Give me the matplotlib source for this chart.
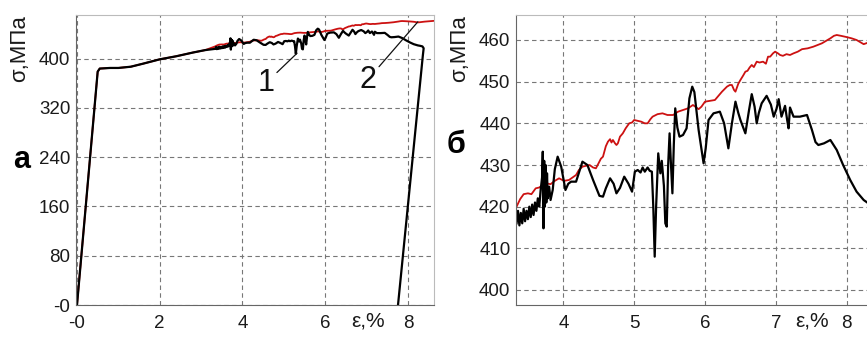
import matplotlib
matplotlib.use('Agg')
import matplotlib.pyplot as plt

plt.rcParams['font.family'] = ['Liberation Sans', 'DejaVu Sans']

# начальный участок (общий для обеих кривых)
early_strain = [0.0, 0.50, 0.55, 0.8, 1.0, 1.3, 1.6, 2.0, 2.4, 2.8, 3.1]
early_stress = [0, 379, 384, 385, 385, 387, 392, 399, 404, 410, 414]

# кривая 1 (черная), подробный участок
black_strain = [3.34, 3.36, 3.38, 3.40, 3.42, 3.44, 3.46, 3.48, 3.50, 3.52, 3.54, 3.56,
                3.58, 3.60, 3.62, 3.64, 3.66, 3.68, 3.70, 3.71, 3.715, 3.72, 3.73, 3.74,
                3.75, 3.76, 3.77, 3.78, 3.80, 3.82, 3.85, 3.88, 3.92, 3.97, 4.03, 4.07,
                4.11, 4.18, 4.27, 4.34, 4.42, 4.51, 4.56, 4.60, 4.66, 4.71, 4.75, 4.80,
                4.86, 4.92, 4.97, 5.01, 5.05, 5.09, 5.12, 5.15, 5.19, 5.22, 5.25, 5.27,
                5.29, 5.31, 5.34, 5.37, 5.39, 5.42, 5.44, 5.46, 5.48, 5.50, 5.52, 5.54,
                5.56, 5.58, 5.61, 5.64, 5.69, 5.74, 5.78, 5.82, 5.85, 5.91, 5.98, 6.01,
                6.05, 6.12, 6.21, 6.27, 6.33, 6.38, 6.43, 6.47, 6.50, 6.57, 6.62, 6.66,
                6.70, 6.73, 6.76, 6.80, 6.87, 6.93, 6.97, 7.01, 7.04, 7.08, 7.13, 7.16,
                7.18, 7.20, 7.25, 7.34, 7.44, 7.51, 7.56, 7.60, 7.68, 7.77, 7.86, 7.95,
                8.05, 8.14, 8.24, 8.29]
black_stress = [416, 419, 415.5, 418.5, 416, 419.5, 416.5, 419, 417, 420, 417.5, 420.5,
                418, 421, 419, 422, 420, 424, 427, 433.2, 419, 414.8, 431, 420,
                430, 421, 428, 422, 424.8, 421.6, 424, 429, 432, 429.6, 424, 425.5,
                426, 426, 430.8, 430, 426.4, 422.6, 422.4, 424.4, 426.8, 425.5, 423.2, 424.5,
                427.2, 425.5, 423.6, 428.4, 428.8, 428.2, 429.4, 428.4, 429.4, 428.6, 428.4, 420,
                408, 420, 432.8, 428, 431, 425, 416, 415.2, 430, 437.6, 430, 423.2,
                435, 443.6, 439, 436.8, 437.2, 438.8, 446, 448.8, 447.5, 438.4, 430.4, 434,
                440.8, 442.4, 442.8, 440, 434, 440, 445.2, 442.5, 440.8, 437.6, 443, 447,
                444, 440, 442.5, 444.8, 446.6, 444.5, 441.6, 443.5, 445.8, 441.6, 444.2, 440.8,
                438.8, 443.8, 441.6, 441.6, 442, 438.4, 435.5, 434.8, 435.2, 436, 433.6, 430,
                426.4, 423.6, 421.6, 421]
black_tail_strain = [8.35, 8.38, 8.36, 7.76]
black_tail_stress = [420, 417, 405, 0]

# кривая 2 (красная), подробный участок
red_strain = [3.34, 3.39, 3.44, 3.50, 3.55, 3.61, 3.66, 3.71, 3.76, 3.82, 3.88, 3.94,
              4.01, 4.08, 4.13, 4.18, 4.22, 4.27, 4.32, 4.37, 4.42, 4.46, 4.50, 4.53,
              4.56, 4.60, 4.63, 4.66, 4.68, 4.70, 4.73, 4.75, 4.77, 4.80, 4.84, 4.88,
              4.93, 4.97, 5.00, 5.05, 5.10, 5.15, 5.19, 5.23, 5.26, 5.33, 5.40, 5.47,
              5.55, 5.62, 5.69, 5.76, 5.83, 5.91, 5.95, 6.00, 6.07, 6.14, 6.19, 6.24,
              6.31, 6.35, 6.38, 6.41, 6.43, 6.47, 6.50, 6.54, 6.57, 6.60, 6.63, 6.66,
              6.69, 6.73, 6.77, 6.82, 6.86, 6.89, 6.92, 6.96, 6.99, 7.03, 7.06, 7.10,
              7.15, 7.20, 7.25, 7.31, 7.37, 7.45, 7.53, 7.59, 7.65, 7.71, 7.77, 7.82,
              7.86, 7.92, 8.00, 8.07, 8.14, 8.20, 8.24, 8.29]
red_stress = [420, 421.8, 423, 423.2, 423, 424.4, 424.6, 425.2, 425.6, 425.4, 426.2, 426.8,
              426.2, 426.4, 427, 427.6, 428.8, 429.6, 429.8, 430, 429.4, 429.2, 430.5, 431.5,
              432, 434.5, 435.6, 436.2, 435.4, 436, 435.2, 434.8, 435.2, 436.8, 437.6, 438.8,
              440, 440.2, 440.8, 440.6, 440.4, 440, 440, 441, 441.6, 442.2, 442.4, 442,
              442, 442.8, 443.2, 443.6, 444.4, 443.4, 444, 445.2, 445.4, 445.6, 446.6, 447.6,
              448.8, 449.2, 449.2, 448, 447.6, 449.5, 450.4, 451.5, 452.4, 452.6, 453.4, 454,
              453.5, 454.8, 454.6, 454.8, 454.3, 456, 456, 456.8, 457.2, 456.8, 456.4, 456.2,
              456.6, 456.4, 456.8, 457.2, 457.8, 458, 458.4, 458.8, 459.2, 459.8, 460.4, 461,
              461.2, 461, 460.7, 460.4, 460, 459.4, 459, 459.3]
red_tail_strain = [8.40, 8.63]
red_tail_stress = [460.2, 461.5]

left_x_ticks = [0, 2, 4, 6, 8]
left_x_labels = ['-0', '2', '4', '6', '8']
left_y_ticks = [0, 80, 160, 240, 320, 400]
left_y_labels = ['-0', '80', '160', '240', '320', '400']
right_x_ticks = [4, 5, 6, 7, 8]
right_y_ticks = [400, 410, 420, 430, 440, 450, 460]

W, H = 867, 352
fig = plt.figure(figsize=(W / 100, H / 100), dpi=100)

ax1 = fig.add_axes([76 / W, 1 - 305 / H, 358 / W, 290 / H])
ax2 = fig.add_axes([516 / W, 1 - 305 / H, 351 / W, 290 / H])

red_c = '#cc1111'

# левая панель
bx = early_strain + black_strain + black_tail_strain
by = early_stress + black_stress + black_tail_stress
rx = early_strain + red_strain + red_tail_strain
ry = early_stress + red_stress + red_tail_stress
ax1.plot(rx, ry, color=red_c, lw=1.3)
ax1.plot(bx, by, color='black', lw=1.6)
ax1.set_xlim(-0.024, 8.63)
ax1.set_ylim(0, 471)
ax1.set_xticks(left_x_ticks)
ax1.set_xticklabels(left_x_labels)
ax1.set_yticks(left_y_ticks)
ax1.set_yticklabels(left_y_labels)

ax1.annotate('1', xy=(5.32, 409), xytext=(4.56, 360), fontsize=22,
             ha='center', va='center', color='#111',
             arrowprops=dict(arrowstyle='-', lw=0.9, color='#111', shrinkA=0, shrinkB=0))
ax1.annotate('2', xy=(8.24, 460), xytext=(7.03, 366), fontsize=22,
             ha='center', va='center', color='#111',
             arrowprops=dict(arrowstyle='-', lw=0.9, color='#111', shrinkA=0, shrinkB=0))

# правая панель
ax2.plot(red_strain, red_stress, color=red_c, lw=1.3)
ax2.plot(black_strain, black_stress, color='black', lw=1.6)
ax2.set_xlim(3.332, 8.287)
ax2.set_ylim(396.4, 466)
ax2.set_xticks(right_x_ticks)
ax2.set_yticks(right_y_ticks)
ax2.spines['right'].set_visible(False)

for ax in (ax1, ax2):
    ax.grid(True, color='#777777', linestyle=(0, (4, 3)), lw=0.8)
    ax.tick_params(length=0, labelsize=13.5, colors='#1a1a1a')
    ax.tick_params(axis='y', pad=4)
    ax.tick_params(axis='x', pad=7)
    ax.spines['top'].set_color('#bbbbbb')
    ax.spines['right'].set_color('#bbbbbb')
    ax.spines['left'].set_color('#666666')
    ax.spines['bottom'].set_color('#666666')
    ax.set_axisbelow(True)

fig.text(20 / W, 1 - 49 / H, 'σ,МПа', rotation=90, ha='center', va='center',
         fontsize=16, color='#1a1a1a')
fig.text(460 / W, 1 - 49 / H, 'σ,МПа', rotation=90, ha='center', va='center',
         fontsize=16, color='#1a1a1a')
fig.text(22 / W, 1 - 160 / H, 'а', ha='center', va='center', fontsize=22,
         fontweight='bold')
fig.text(456 / W, 1 - 145 / H, 'б', ha='center', va='center', fontsize=22,
         fontweight='bold')
fig.text(368 / W, 1 - 321 / H, 'ε,%', ha='center', va='center', fontsize=15,
         color='#1a1a1a')
fig.text(812 / W, 1 - 321 / H, 'ε,%', ha='center', va='center', fontsize=15,
         color='#1a1a1a')

fig.savefig('out.png', dpi=100)
